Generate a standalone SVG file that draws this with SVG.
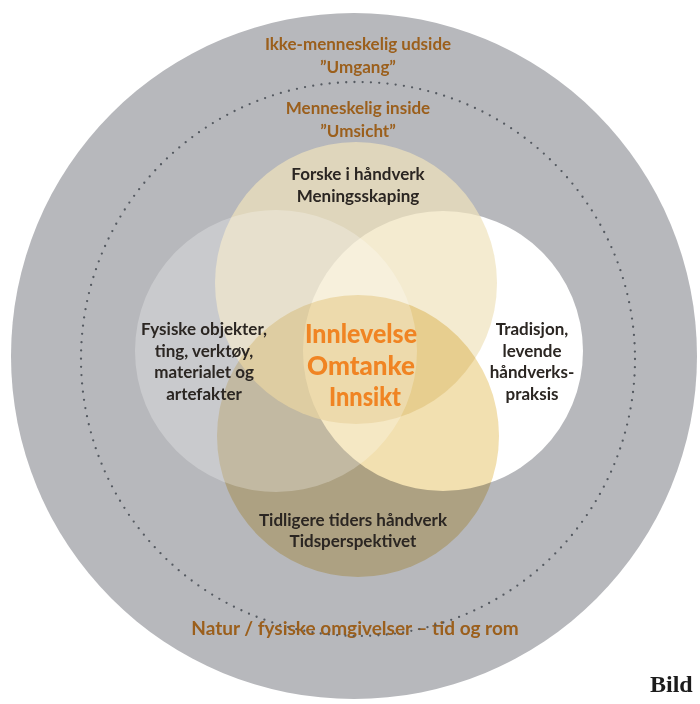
<svg xmlns="http://www.w3.org/2000/svg" width="700" height="704" viewBox="0 0 700 704">
<style>
.t{font-family:Lato,"Liberation Sans",sans-serif;font-weight:700;text-anchor:middle}
.lbl{font-size:17px;fill:#2b2622}
.brown{font-size:17px;fill:#9b5f1c}
.core{font-size:27px;fill:#f08423;font-weight:900}
</style>
<rect width="700" height="704" fill="#ffffff"/>
<g id="outer-ring">
  <circle cx="354" cy="356" r="343" fill="#b7b8bc"/>
  <text class="t brown" x="358" y="50">Ikke-menneskelig udside</text>
  <text class="t brown" x="358" y="73">”Umgang”</text>
</g>
<g id="inner-ring">
  <text class="t brown" x="358" y="114">Menneskelig inside</text>
  <text class="t brown" x="358" y="137">”Umsicht”</text>
  <text class="t brown" x="355" y="635" style="font-size:19px">Natur / fysiske omgivelser – tid og rom</text>
  <circle cx="358" cy="359" r="277" fill="none" stroke="#555a61" stroke-width="2.3" stroke-linecap="round" stroke-dasharray="0 8.288"/>
</g>
<g id="venn-right">
  <circle cx="443" cy="351" r="140" fill="#ffffff"/>
  <text class="t lbl" x="532" y="335">Tradisjon,</text>
  <text class="t lbl" x="532" y="357">levende</text>
  <text class="t lbl" x="532" y="378">håndverks-</text>
  <text class="t lbl" x="532" y="400">praksis</text>
</g>
<g id="venn-top">
  <circle cx="356" cy="283" r="141" fill="#efe2bc" fill-opacity="0.7"/>
  <text class="t lbl" x="358" y="180">Forske i håndverk</text>
  <text class="t lbl" x="358" y="202">Meningsskaping</text>
</g>
<g id="venn-bottom">
  <circle cx="358" cy="436" r="141" fill="#f2e0b0" style="mix-blend-mode:multiply"/>
  <text class="t lbl" x="353" y="526">Tidligere tiders håndverk</text>
  <text class="t lbl" x="353" y="547">Tidsperspektivet</text>
</g>
<g id="venn-left">
  <circle cx="276" cy="351" r="141" fill="#ffffff" fill-opacity="0.26"/>
  <text class="t lbl" x="204" y="335">Fysiske objekter,</text>
  <text class="t lbl" x="204" y="357">ting, verktøy,</text>
  <text class="t lbl" x="204" y="378">materialet og</text>
  <text class="t lbl" x="204" y="400">artefakter</text>
</g>
<g id="core">
  <text class="t core" x="361" y="343" textLength="112" lengthAdjust="spacingAndGlyphs">Innlevelse</text>
  <text class="t core" x="361" y="375" textLength="108" lengthAdjust="spacingAndGlyphs">Omtanke</text>
  <text class="t core" x="365" y="406" textLength="72" lengthAdjust="spacingAndGlyphs">Innsikt</text>
</g>
<text x="650" y="692" font-family="'Liberation Serif',serif" font-weight="700" font-size="24" fill="#1c1c1c">Bild</text>
</svg>
